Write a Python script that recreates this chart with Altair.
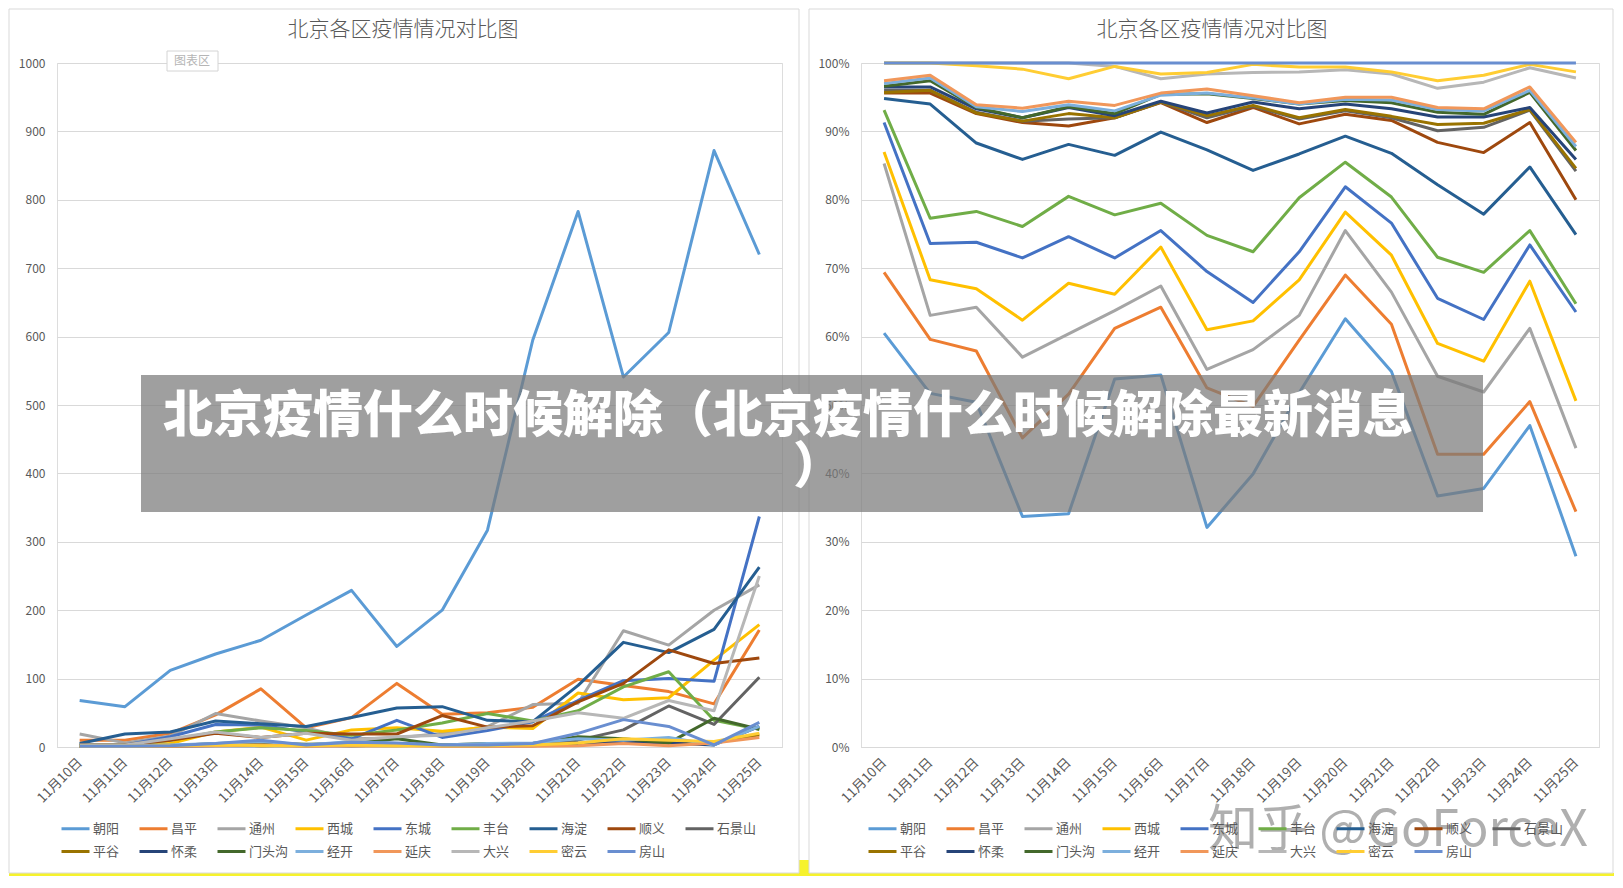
import altair as alt
import pandas as pd

FONT = "Noto Sans CJK SC"

dates = ["11月10日", "11月11日", "11月12日", "11月13日", "11月14日", "11月15日", "11月16日", "11月17日",
         "11月18日", "11月19日", "11月20日", "11月21日", "11月22日", "11月23日", "11月24日", "11月25日"]
districts = ["朝阳", "昌平", "通州", "西城", "东城", "丰台", "海淀", "顺义", "石景山",
             "平谷", "怀柔", "门头沟", "经开", "延庆", "大兴", "密云", "房山"]
colors = ["#5B9BD5", "#ED7D31", "#A5A5A5", "#FFC000", "#4472C4", "#70AD47", "#255E91", "#9E480E", "#636363",
          "#997300", "#264478", "#43682B", "#7CAFDD", "#F1975A", "#B7B7B7", "#FFCD33", "#698ED0"]

chart_title = "北京各区疫情情况对比图"
banner_line1 = "北京疫情什么时候解除（北京疫情什么时候解除最新消息"
banner_line2 = "）"
watermark = "知乎 @GoForceX"
tooltip_label = "图表区"

left_ticks = [0, 100, 200, 300, 400, 500, 600, 700, 800, 900, 1000]
right_ticks = [0, 10, 20, 30, 40, 50, 60, 70, 80, 90, 100]

# ---- left panel: daily counts ----
chaoyang_n = [68, 59, 112, 136, 156, 193, 229, 147, 200, 317, 595, 783, 541, 606, 872, 720]
changping_n = [10, 10, 20, 47, 85, 28, 43, 93, 48, 50, 58, 99, 90, 81, 63, 171]
tongzhou_n = [19, 6, 16, 49, 38, 28, 12, 13, 20, 30, 62, 64, 170, 149, 200, 237]
xicheng_n = [1, 1, 5, 22, 29, 10, 25, 28, 23, 29, 27, 79, 69, 72, 127, 179]
dongcheng_n = [3, 3, 15, 33, 32, 22, 12, 39, 14, 24, 37, 68, 97, 100, 96, 337]
fengtai_n = [3, 3, 10, 22, 28, 24, 17, 25, 35, 49, 38, 53, 88, 110, 39, 26]
haidian_n = [5, 19, 22, 38, 34, 30, 43, 57, 59, 39, 37, 90, 153, 138, 172, 263]
shunyi_n = [3, 3, 10, 20, 14, 20, 19, 19, 46, 29, 31, 66, 93, 142, 122, 130]
shijingshan_n = [1, 1, 2, 3, 3, 2, 3, 4, 2, 2, 5, 10, 25, 60, 33, 102]
pinggu_n = [1, 1, 2, 3, 2, 3, 2, 2, 3, 2, 3, 5, 8, 8, 6, 18]
huairou_n = [1, 1, 1, 2, 2, 2, 2, 3, 2, 2, 2, 5, 8, 6, 3, 30]
mentougou_n = [2, 2, 2, 5, 6, 4, 5, 12, 3, 5, 5, 15, 12, 6, 42, 26]
jingkai_n = [2, 2, 3, 5, 8, 3, 8, 5, 3, 5, 6, 12, 10, 14, 3, 30]
yanqing_n = [1, 1, 1, 2, 3, 1, 2, 2, 1, 1, 1, 2, 5, 2, 6, 14]
daxing_n = [3, 3, 12, 22, 14, 20, 10, 15, 17, 28, 38, 50, 42, 68, 53, 250]
miyun_n = [1, 1, 2, 3, 2, 2, 3, 2, 2, 2, 3, 6, 12, 10, 8, 20]
fangshan_n = [1, 1, 2, 5, 10, 3, 7, 6, 3, 3, 5, 20, 40, 30, 3, 36]

# ---- right panel: percentages ----
chaoyang_p = [60.5, 51.7, 50.4, 33.7, 34.1, 53.8, 54.4, 32.1, 39.9, 51.8, 62.6, 54.9, 36.7, 37.8, 47.0, 27.9]
changping_p = [69.4, 59.6, 57.9, 45.2, 51.6, 61.2, 64.3, 52.5, 49.8, 59.5, 69.0, 61.8, 42.8, 42.8, 50.5, 34.4]
tongzhou_p = [85.3, 63.1, 64.3, 57.0, 60.4, 63.8, 67.4, 55.2, 58.1, 63.1, 75.5, 66.5, 54.2, 51.9, 61.2, 43.7]
xicheng_p = [87.0, 68.3, 67.0, 62.4, 67.8, 66.2, 73.1, 61.0, 62.3, 68.3, 78.2, 71.9, 59.0, 56.4, 68.1, 50.6]
dongcheng_p = [91.3, 73.6, 73.8, 71.5, 74.6, 71.5, 75.5, 69.5, 65.0, 72.4, 81.9, 76.6, 65.6, 62.5, 73.4, 63.6]
fengtai_p = [93.1, 77.3, 78.3, 76.1, 80.5, 77.8, 79.5, 74.8, 72.4, 80.3, 85.5, 80.4, 71.6, 69.4, 75.5, 64.8]
haidian_p = [94.8, 94.0, 88.3, 85.9, 88.1, 86.5, 89.9, 87.3, 84.3, 86.7, 89.3, 86.8, 82.2, 77.9, 84.8, 74.9]
shunyi_p = [95.6, 95.6, 92.6, 91.3, 90.8, 92.0, 94.2, 91.3, 93.5, 91.1, 92.5, 91.6, 88.4, 86.9, 91.3, 80.0]
shijingshan_p = [96.0, 96.0, 92.8, 91.5, 91.8, 92.0, 94.3, 92.0, 93.7, 91.8, 93.0, 92.0, 90.1, 90.6, 93.1, 84.2]
pinggu_p = [95.7, 96.0, 92.7, 91.5, 92.6, 92.0, 94.3, 92.3, 93.8, 92.0, 93.2, 92.2, 91.0, 91.2, 93.2, 84.6]
huairou_p = [96.5, 96.5, 93.3, 92.0, 93.5, 92.3, 94.4, 92.7, 94.3, 93.3, 94.0, 93.3, 92.1, 92.1, 93.5, 85.9]
mentougou_p = [96.6, 97.4, 93.5, 92.0, 93.6, 92.6, 95.4, 95.5, 94.8, 94.0, 94.5, 94.2, 92.8, 92.5, 95.7, 87.2]
jingkai_p = [97.0, 97.8, 93.6, 92.9, 93.9, 93.0, 95.3, 95.6, 94.9, 94.0, 94.7, 94.6, 93.2, 93.0, 96.0, 87.8]
yanqing_p = [97.4, 98.2, 93.9, 93.4, 94.4, 93.8, 95.6, 96.2, 95.2, 94.2, 95.0, 95.0, 93.5, 93.3, 96.5, 88.4]
daxing_p = [100, 100, 100, 100, 100, 99.5, 97.7, 98.4, 98.6, 98.7, 99.0, 98.4, 96.3, 97.2, 99.3, 97.8]
miyun_p = [100, 100, 99.6, 99.1, 97.7, 99.5, 98.4, 98.6, 99.8, 99.4, 99.4, 98.7, 97.4, 98.2, 99.8, 98.7]
fangshan_p = [100, 100, 100, 100, 100, 100, 100, 100, 100, 100, 100, 100, 100, 100, 100, 100]

left_series = [chaoyang_n, changping_n, tongzhou_n, xicheng_n, dongcheng_n, fengtai_n, haidian_n, shunyi_n,
               shijingshan_n, pinggu_n, huairou_n, mentougou_n, jingkai_n, yanqing_n, daxing_n, miyun_n, fangshan_n]
right_series = [chaoyang_p, changping_p, tongzhou_p, xicheng_p, dongcheng_p, fengtai_p, haidian_p, shunyi_p,
                shijingshan_p, pinggu_p, huairou_p, mentougou_p, jingkai_p, yanqing_p, daxing_p, miyun_p, fangshan_p]


def long_frame(series):
    rows = []
    for name, vals in zip(districts, series):
        for d, v in zip(dates, vals):
            rows.append({"district": name, "date": d, "value": v})
    return pd.DataFrame(rows)


left_df = long_frame(left_series)
right_df = long_frame(right_series)
one = pd.DataFrame({"k": [0]})

GRID = "#d9d9d9"
TXT = "#595959"
PW_L, PW_R, PH = 725, 738, 684
TOP = -54


def legend(x):
    return alt.Legend(orient="none", legendX=x, legendY=750, direction="horizontal", columns=9,
                      symbolType="stroke", symbolStrokeWidth=3, symbolSize=784, title=None,
                      labelFont=FONT, labelFontSize=13, labelColor=TXT, labelOffset=2,
                      gridAlign="all", columnPadding=0, rowPadding=0)


def x_enc():
    return alt.X("date:O", sort=dates, scale=alt.Scale(type="point", padding=0.5),
                 axis=alt.Axis(title=None, labelAngle=315, labelAlign="right", labelBaseline="middle",
                               labelPadding=13, ticks=False, domain=True, domainColor=GRID, grid=False,
                               labelFont=FONT, labelFontSize=13.5, labelColor=TXT))


def lines(df, ymax, ticks, label_expr, lx):
    axis_kwargs = dict(title=None, values=ticks, grid=True, gridColor=GRID, gridWidth=1, domain=False,
                       ticks=False, labelPadding=12, labelFont=FONT, labelFontSize=12, labelColor=TXT)
    if label_expr:
        axis_kwargs["labelExpr"] = label_expr
    else:
        axis_kwargs["format"] = "d"
    return alt.Chart(df).mark_line(strokeWidth=3, strokeJoin="round").encode(
        x=x_enc(),
        y=alt.Y("value:Q", scale=alt.Scale(domain=[0, ymax], nice=False, zero=True), axis=alt.Axis(**axis_kwargs)),
        color=alt.Color("district:N", sort=districts, scale=alt.Scale(domain=districts, range=colors),
                        legend=legend(lx)),
    )


def box(x1, x2):
    return alt.Chart(one).mark_rect(fill="transparent", stroke=GRID, strokeWidth=1).encode(
        x=alt.value(x1), x2=alt.value(x2), y=alt.value(TOP), y2=alt.value(810))


def title_mark(x):
    return alt.Chart(one).mark_text(text=chart_title, font=FONT, fontSize=21, fontWeight=300, color=TXT,
                                    align="center", baseline="middle").encode(
        x=alt.value(x), y=alt.value(-33))


# yellow spreadsheet row just below the chart boxes
yellow_bottom = alt.Chart(one).mark_rect(fill="#f6f22c").encode(
    x=alt.value(-48), x2=alt.value(1557), y=alt.value(810), y2=alt.value(813))
yellow_gap = alt.Chart(one).mark_rect(fill="#f6f22c").encode(
    x=alt.value(742), x2=alt.value(752), y=alt.value(797), y2=alt.value(813))

tip_box = alt.Chart(one).mark_rect(fill="white", stroke="#d4d4d4", strokeWidth=1).encode(
    x=alt.value(110), x2=alt.value(161), y=alt.value(-12), y2=alt.value(8))
tip_text = alt.Chart(one).mark_text(text=tooltip_label, font=FONT, fontSize=12, color="#b5b5b5",
                                    align="center", baseline="middle").encode(
    x=alt.value(135), y=alt.value(-2))

left = alt.layer(
    yellow_bottom, yellow_gap, box(-48, 742), title_mark(346),
    lines(left_df, 1000, left_ticks, None, 3),
    tip_box, tip_text,
).properties(width=PW_L, height=PH)

banner = alt.Chart(one).mark_rect(fill="#7a7a7a", opacity=0.72).encode(
    x=alt.value(-720), x2=alt.value(622), y=alt.value(312), y2=alt.value(449))
banner_t1 = alt.Chart(one).mark_text(text=banner_line1, font=FONT, fontSize=50, fontWeight=900, color="white",
                                     align="center", baseline="middle").encode(
    x=alt.value(-73), y=alt.value(354))
banner_t2 = alt.Chart(one).mark_text(text=banner_line2, font=FONT, fontSize=50, fontWeight=900, color="white",
                                     align="center", baseline="middle").encode(
    x=alt.value(-43), y=alt.value(405))
wm = alt.Chart(one).mark_text(text=watermark, font=FONT, fontSize=50, color="#6f6f6f", opacity=0.55,
                              align="center", baseline="middle").encode(
    x=alt.value(537), y=alt.value(768))

right = alt.layer(
    box(-52, 752), title_mark(351),
    lines(right_df, 100, right_ticks, "datum.value + '%'", 6),
    banner, banner_t1, banner_t2, wm,
).properties(width=PW_R, height=PH)

chart = alt.hconcat(left, right, spacing=79, bounds="flush").resolve_scale(
    x="independent", y="independent", color="independent"
).resolve_legend(color="independent").properties(
    padding=0, background="white"
).configure_view(strokeWidth=0).configure(font=FONT)

chart.save("out.html", embed_options={"renderer": "svg", "actions": False})
